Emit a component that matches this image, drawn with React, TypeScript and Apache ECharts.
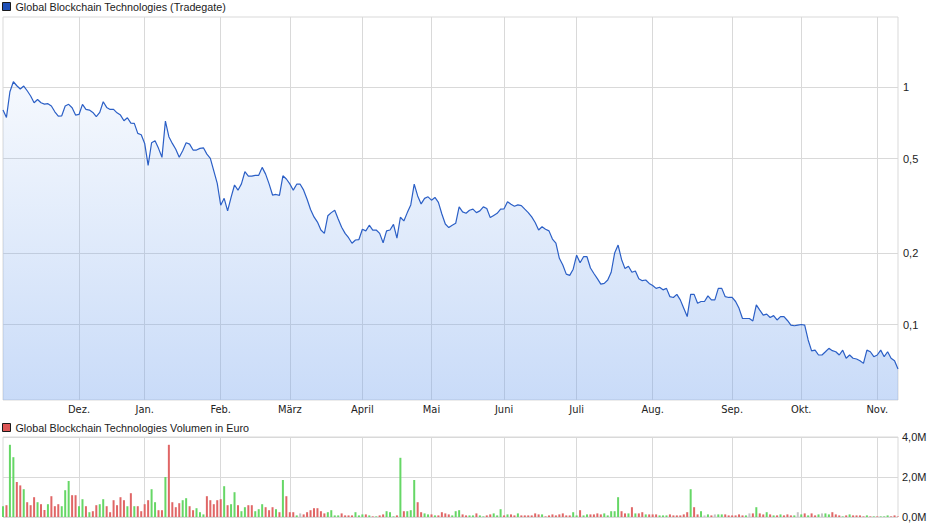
import React, { useEffect, useRef } from 'react';
import * as echarts from 'echarts';

const PRICE_NAME = 'Global Blockchain Technologies (Tradegate)';
const VOLUME_NAME = 'Global Blockchain Technologies Volumen in Euro';

const START_DATE = '2017-11-01';
const END_DATE = '2018-11-09';
const CLOSED_DAYS = ['2017-12-25', '2017-12-26', '2018-01-01', '2018-03-30', '2018-04-02', '2018-05-01', '2018-05-21', '2018-10-03'];
const MONTH_LABELS = ['Jan.', 'Feb.', 'März', 'April', 'Mai', 'Juni', 'Juli', 'Aug.', 'Sep.', 'Okt.', 'Nov.', 'Dez.'];

const PRICE_TICKS = [1, 0.5, 0.2, 0.1];
const PRICE_TICK_LABELS = ['1', '0,5', '0,2', '0,1'];

// daily closing price (EUR)
const PRICE = [
  0.800, 0.745, 0.956, 1.053, 1.013, 0.981, 1.010, 0.965, 0.917, 0.859,
  0.887, 0.859, 0.848, 0.851, 0.832, 0.787, 0.755, 0.757, 0.832, 0.846,
  0.818, 0.762, 0.767, 0.846, 0.805, 0.800, 0.782, 0.750, 0.782, 0.867,
  0.821, 0.805, 0.805, 0.779, 0.762, 0.721, 0.743, 0.705, 0.703, 0.638,
  0.630, 0.579, 0.468, 0.583, 0.594, 0.552, 0.506, 0.719, 0.618, 0.579,
  0.547, 0.506, 0.539, 0.583, 0.575, 0.543, 0.543, 0.552, 0.555, 0.522,
  0.501, 0.444, 0.393, 0.318, 0.340, 0.301, 0.343, 0.387, 0.368, 0.391,
  0.440, 0.422, 0.422, 0.425, 0.425, 0.459, 0.430, 0.391, 0.351, 0.353,
  0.350, 0.423, 0.410, 0.391, 0.368, 0.390, 0.390, 0.368, 0.337, 0.305,
  0.284, 0.270, 0.250, 0.242, 0.287, 0.296, 0.303, 0.278, 0.257, 0.242,
  0.232, 0.220, 0.227, 0.228, 0.252, 0.248, 0.262, 0.250, 0.250, 0.242,
  0.221, 0.248, 0.250, 0.264, 0.231, 0.283, 0.273, 0.296, 0.319, 0.390,
  0.348, 0.322, 0.340, 0.345, 0.334, 0.343, 0.327, 0.292, 0.265, 0.256,
  0.262, 0.267, 0.313, 0.298, 0.294, 0.303, 0.306, 0.296, 0.301, 0.313,
  0.308, 0.282, 0.288, 0.294, 0.306, 0.307, 0.329, 0.321, 0.315, 0.319,
  0.317, 0.306, 0.296, 0.284, 0.269, 0.250, 0.258, 0.252, 0.248, 0.229,
  0.220, 0.190, 0.178, 0.163, 0.161, 0.171, 0.196, 0.182, 0.193, 0.193,
  0.173, 0.164, 0.156, 0.148, 0.149, 0.154, 0.166, 0.200, 0.216, 0.188,
  0.172, 0.176, 0.166, 0.168, 0.156, 0.153, 0.154, 0.149, 0.146, 0.142,
  0.1435, 0.140, 0.142, 0.131, 0.130, 0.134, 0.127, 0.117, 0.108, 0.134,
  0.134, 0.123, 0.125, 0.125, 0.132, 0.127, 0.127, 0.142, 0.142, 0.131,
  0.130, 0.130, 0.125, 0.117, 0.106, 0.106, 0.106, 0.1035, 0.121, 0.115,
  0.1096, 0.1106, 0.107, 0.109, 0.1045, 0.108, 0.108, 0.104, 0.0995, 0.0988,
  0.0995, 0.100, 0.0995, 0.0861, 0.0774, 0.078, 0.0744, 0.0744, 0.0768, 0.0794,
  0.0776, 0.0768, 0.0744, 0.078, 0.0721, 0.0744, 0.0721, 0.0716, 0.0704, 0.0686,
  0.078, 0.0768, 0.0732, 0.0744, 0.078, 0.0732, 0.0768, 0.0721, 0.0704, 0.065,
];

// daily volume in million EUR
const VOLUME = [
  0.54, 0.59, 3.61, 2.99, 1.75, 1.58, 1.39, 0.74, 0.59, 0.99,
  0.74, 0.64, 0.35, 0.64, 1.04, 0.54, 0.64, 0.54, 1.34, 1.80,
  1.09, 1.09, 0.54, 0.89, 0.54, 0.24, 0.29, 0.59, 0.64, 0.89,
  0.54, 0.24, 0.84, 0.59, 0.99, 0.84, 0.54, 1.19, 0.54, 0.54,
  0.29, 0.64, 0.84, 1.39, 0.74, 0.34, 0.34, 2.00, 3.61, 0.74,
  0.49, 0.69, 0.84, 0.94, 0.54, 0.34, 0.44, 0.24, 0.13, 1.04,
  0.84, 0.64, 0.84, 0.89, 1.54, 0.59, 0.64, 1.24, 0.59, 0.29,
  0.49, 0.59, 0.59, 0.29, 0.39, 0.64, 0.49, 0.34, 0.49, 0.39,
  0.24, 1.85, 1.04, 0.24, 0.24, 0.08, 0.18, 0.13, 0.24, 0.34,
  0.44, 0.44, 0.29, 0.18, 0.24, 0.34, 0.08, 0.08, 0.18, 0.08,
  0.08, 0.08, 0.24, 0.08, 0.13, 0.13, 0.08, 0.03, 0.03, 0.08,
  0.13, 0.29, 0.24, 0.03, 0.08, 2.96, 0.29, 0.29, 0.34, 1.85,
  0.74, 0.24, 0.18, 0.13, 0.13, 0.08, 0.08, 0.24, 0.18, 0.13,
  0.08, 0.29, 0.34, 0.13, 0.08, 0.08, 0.08, 0.18, 0.08, 0.03,
  0.08, 0.13, 0.18, 0.08, 0.39, 0.08, 0.13, 0.13, 0.08, 0.18,
  0.08, 0.08, 0.08, 0.08, 0.18, 0.13, 0.13, 0.03, 0.08, 0.13,
  0.08, 0.13, 0.18, 0.08, 0.08, 0.24, 0.08, 0.34, 0.08, 0.13,
  0.13, 0.13, 0.18, 0.13, 0.18, 0.08, 0.29, 0.29, 0.99, 0.29,
  0.18, 0.18, 0.49, 0.18, 0.18, 0.24, 0.13, 0.13, 0.13, 0.13,
  0.08, 0.08, 0.08, 0.13, 0.08, 0.08, 0.08, 0.13, 0.24, 1.39,
  0.49, 0.13, 0.29, 0.08, 0.13, 0.08, 0.13, 0.13, 0.13, 0.13,
  0.08, 0.08, 0.08, 0.13, 0.08, 0.08, 0.18, 0.18, 0.49, 0.18,
  0.13, 0.24, 0.13, 0.08, 0.08, 0.13, 0.08, 0.13, 0.08, 0.08,
  0.24, 0.13, 0.18, 0.08, 0.18, 0.08, 0.13, 0.18, 0.18, 0.13,
  0.24, 0.13, 0.08, 0.03, 0.08, 0.13, 0.08, 0.08, 0.08, 0.03,
  0.08, 0.03, 0.03, 0.03, 0.03, 0.03, 0.08, 0.03, 0.08, 0.03,
];

// bar colour per day: g = up, r = down, n = unchanged
const DIRECTION = [
  'grggrrgrrr', 'grrgrrrggg', 'rrggrgrrgg', 'rrrrrrgrgr', 'rrrggrrgrr',
  'rrggrrgggr', 'rrrrgrggrg', 'grrgggrrrg', 'rgrrrgnrrr', 'rrrrggggrr',
  'rrgggrgrgr', 'rgggrgrggg', 'rrggrgrrrr', 'gggrrggrgg', 'rrgggrgrrg',
  'rrrrrrgrrr', 'rrrrrggrgg', 'rrrrgggggr', 'rgrgrrgrrr', 'gggrrrrrrg',
  'rrgngrnggr', 'rrrrrgnrgr', 'rgrgrgrrrg', 'ngrgrrgngg', 'rrrgrgrrrr',
  'grgrgggrrr',
].join('').split('');

const BAR_COLORS: Record<string, string> = { g: '#66d766', r: '#e06666', n: '#c4c4c4' };

const FONT = '"Liberation Sans", Arial, Helvetica, sans-serif';
const FONT_NARROW = '"Liberation Sans Narrow", "Arial Narrow", "DejaVu Sans Condensed", "Liberation Sans", sans-serif';
const GRID_COLOR = '#d9d9d9';

function tradingDays(): string[] {
  const out: string[] = [];
  const [sy, sm, sd] = START_DATE.split('-').map(Number);
  const [ey, em, ed] = END_DATE.split('-').map(Number);
  const d = new Date(Date.UTC(sy, sm - 1, sd));
  const end = Date.UTC(ey, em - 1, ed);
  while (d.getTime() <= end) {
    const wd = d.getUTCDay();
    const s = d.toISOString().slice(0, 10);
    if (wd !== 0 && wd !== 6 && CLOSED_DAYS.indexOf(s) < 0) out.push(s);
    d.setUTCDate(d.getUTCDate() + 1);
  }
  return out;
}

export default function App() {
  const ref = useRef<HTMLDivElement>(null);

  useEffect(() => {
    if (!ref.current) return;
    const chart = echarts.init(ref.current, null, { renderer: 'svg' });
    const dates = tradingDays();
    const isMonthStart = (index: number) =>
      index > 0 && index < dates.length && dates[index].slice(5, 7) !== dates[index - 1].slice(5, 7);

    const option: any = {
      animation: false,
      backgroundColor: '#ffffff',
      legend: [
        {
          left: 2, top: 1, padding: 0, itemWidth: 8, itemHeight: 8, icon: 'rect',
          selectedMode: false,
          textStyle: { fontFamily: FONT, fontSize: 10.75, color: '#222' },
          data: [{ name: PRICE_NAME, itemStyle: { color: '#1f50b8', borderColor: '#1a1a1a', borderWidth: 1 } }],
        },
        {
          left: 2, top: 422, padding: 0, itemWidth: 8, itemHeight: 8, icon: 'rect',
          selectedMode: false,
          textStyle: { fontFamily: FONT, fontSize: 10.75, color: '#222' },
          data: [{ name: VOLUME_NAME, itemStyle: { color: '#dd5555', borderColor: '#1a1a1a', borderWidth: 1 } }],
        },
      ],
      grid: [
        { left: 3, right: 42, top: 17, height: 383, show: true, borderColor: GRID_COLOR, borderWidth: 1, containLabel: false },
        { left: 3, right: 42, top: 437, height: 80, show: true, borderColor: GRID_COLOR, borderWidth: 1, containLabel: false },
      ],
      xAxis: [
        {
          type: 'category', gridIndex: 0, data: dates, boundaryGap: false,
          axisLine: { show: false }, axisTick: { show: false },
          axisLabel: {
            interval: (i: number) => isMonthStart(i),
            formatter: (v: string) => MONTH_LABELS[Number(v.slice(5, 7)) - 1],
            fontFamily: FONT_NARROW, fontSize: 11, color: '#222', margin: 4,
          },
          splitLine: { show: true, interval: (i: number) => isMonthStart(i), lineStyle: { color: GRID_COLOR, width: 1 } },
        },
        {
          type: 'category', gridIndex: 1, data: dates, boundaryGap: false,
          axisLine: { show: false }, axisTick: { show: false }, axisLabel: { show: false },
          splitLine: { show: true, interval: (i: number) => isMonthStart(i), lineStyle: { color: GRID_COLOR, width: 1 } },
        },
      ],
      yAxis: [
        {
          type: 'log', gridIndex: 0, logBase: 10, min: 0.0481, max: 1.973, position: 'right',
          axisLine: { show: false }, axisTick: { show: false }, axisLabel: { show: false }, splitLine: { show: false },
        },
        {
          type: 'value', gridIndex: 1, min: 0, max: 4, interval: 2, position: 'right',
          axisLine: { show: false }, axisTick: { show: false },
          axisLabel: {
            formatter: (v: number) => v.toFixed(1).replace('.', ',') + 'M',
            fontFamily: FONT, fontSize: 11, color: '#222', margin: 4,
          },
          splitLine: { show: true, lineStyle: { color: GRID_COLOR, width: 1 } },
        },
      ],
      series: [
        {
          name: PRICE_NAME, type: 'line', xAxisIndex: 0, yAxisIndex: 0, data: PRICE,
          showSymbol: false, symbol: 'none', z: 3,
          lineStyle: { color: '#2b5fc6', width: 1.2 },
          itemStyle: { color: '#1f50b8' },
          areaStyle: {
            color: new echarts.graphic.LinearGradient(0, 0, 0, 1, [
              { offset: 0, color: 'rgba(121,167,237,0.10)' },
              { offset: 1, color: 'rgba(118,164,238,0.56)' },
            ]),
          },
          markLine: {
            silent: true, symbol: 'none', z: 1, animation: false,
            lineStyle: { color: GRID_COLOR, width: 1, type: 'solid' },
            label: { position: 'end', distance: 5, color: '#222', fontSize: 11, fontFamily: FONT },
            data: PRICE_TICKS.map((v, i) => ({ yAxis: v, label: { formatter: PRICE_TICK_LABELS[i] } })),
          },
        },
        {
          name: VOLUME_NAME, type: 'bar', xAxisIndex: 1, yAxisIndex: 1, barWidth: 2,
          itemStyle: { color: '#dd5555' },
          data: VOLUME.map((v, i) => ({ value: v, itemStyle: { color: BAR_COLORS[DIRECTION[i]] || '#c4c4c4' } })),
        },
      ],
    };

    chart.setOption(option);
    return () => chart.dispose();
  }, []);

  return <div ref={ref} style={{ width: 940, height: 526, position: 'absolute', left: 0, top: 0 }} />;
}
